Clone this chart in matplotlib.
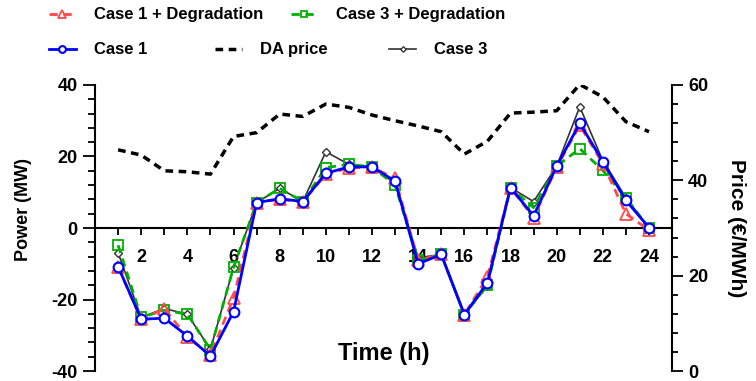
import numpy as np
import matplotlib
matplotlib.use("Agg")
from matplotlib import pyplot as plt
from matplotlib.ticker import MultipleLocator

plt.rcParams['font.family'] = ['Liberation Sans', 'DejaVu Sans']
plt.rcParams['font.weight'] = 'bold'
plt.rcParams['axes.unicode_minus'] = False

hours = np.arange(1, 25)

case1_deg = [-11, -25.5, -22.6, -30.5, -35.5, -19.5, 7.1, 8.0, 7.3, 15.0, 16.8, 17.0,
             13.9, -9.0, -7.4, -24.2, -13.7, 11.3, 2.9, 17.0, 28.7, 18.0, 4.0, -0.6]
case3_deg = [-4.8, -25.0, -23.0, -24.1, -34.0, -11.0, 7.1, 11.1, 7.4, 16.9, 17.8, 17.1,
             12.0, -9.0, -7.4, -24.2, -16.0, 11.3, 5.7, 17.3, 22.2, 16.1, 8.5, 0.0]
case1 = [-10.8, -25.5, -25.2, -30.2, -35.8, -23.4, 7.1, 8.2, 7.4, 15.3, 17.1, 17.1,
         13.1, -10.0, -7.4, -24.2, -15.3, 11.3, 3.4, 17.3, 29.3, 18.6, 7.7, 0.1]
case3 = [-6.9, -25.0, -22.5, -24.1, -33.9, -11.1, 7.1, 11.1, 7.4, 21.3, 17.8, 17.1,
         12.5, -8.3, -7.4, -24.2, -16.2, 11.3, 7.4, 17.3, 33.9, 18.8, 8.5, 0.0]
da_price = [46.4, 45.3, 42.0, 41.8, 41.3, 49.2, 50.0, 53.9, 53.4, 56.0, 55.3, 53.7,
            52.5, 51.4, 50.2, 45.5, 48.2, 54.1, 54.3, 54.6, 60.1, 57.5, 52.3, 50.2]

fig = plt.figure(figsize=(7.56, 3.81), dpi=100)
ax = fig.add_axes([0.1257, 0.026, 0.889 - 0.1257, 0.751])
ax2 = ax.twinx()

l_c3, = ax.plot(hours, case3, color='#333333', lw=1.2, marker='D', ms=4,
                mfc='white', mec='#333333', mew=1, label='Case 3', zorder=3)
l_c3d, = ax.plot(hours, case3_deg, color='#00b000', lw=2, ls=(0, (3, 2)), marker='s', ms=7,
                 mfc='none', mec='#00b000', mew=1.3, label='Case 3 + Degradation', zorder=4)
l_c1d, = ax.plot(hours, case1_deg, color='#ff4a4a', lw=2, ls=(0, (3, 2)), marker='^', ms=9,
                 mfc='none', mec='#ff4a4a', mew=1.3, label='Case 1 + Degradation', zorder=5)
l_c1, = ax.plot(hours, case1, color='#0000ff', lw=2, marker='o', ms=7,
                mfc='white', mec='#0000ff', mew=1.5, label='Case 1', zorder=6)
l_da, = ax2.plot(hours, da_price, color='black', lw=2.5, ls=(0, (2.2, 1.6)), label='DA price')

ax.set_xlim(0, 25)
ax.set_ylim(-40, 40)
ax2.set_ylim(0, 60)

ax.spines['bottom'].set_position(('data', 0))
ax.spines['top'].set_visible(False)
ax.spines['right'].set_visible(False)
ax.spines['left'].set_linewidth(1.5)
ax.spines['bottom'].set_linewidth(1.5)
ax.spines['bottom'].set_bounds(0, 25)
ax2.spines['top'].set_visible(False)
ax2.spines['left'].set_visible(False)
ax2.spines['bottom'].set_visible(False)
ax2.spines['right'].set_linewidth(1.5)
ax2.spines['right'].set_bounds(0, 60)

ax.set_xticks(np.arange(2, 25, 2))
ax.xaxis.set_minor_locator(MultipleLocator(1))
ax.tick_params(axis='x', which='both', direction='out', length=5, width=1.3,
               labelsize=13, pad=10)
ax.set_yticks([-40, -20, 0, 20, 40])
ax.yaxis.set_minor_locator(MultipleLocator(4))
ax.tick_params(axis='y', which='major', direction='out', length=9, width=1.3, labelsize=13)
ax.tick_params(axis='y', which='minor', direction='out', length=5, width=1.3)
ax2.set_yticks([0, 20, 40, 60])
ax2.yaxis.set_minor_locator(MultipleLocator(4))
ax2.tick_params(axis='y', which='major', direction='out', length=8, width=1.3, labelsize=13)
ax2.tick_params(axis='y', which='minor', direction='out', length=4, width=1.3)

for lab in ax.get_xticklabels() + ax.get_yticklabels() + ax2.get_yticklabels():
    lab.set_fontweight('bold')

ax.set_xlabel('Time (h)', fontsize=17, fontweight='bold')
ax.xaxis.set_label_coords(0.5, 0.1)
ax.set_ylabel('Power (MW)', fontsize=13, fontweight='bold')
ax.yaxis.set_label_coords(-0.109, 0.566)
ax2.set_ylabel('Price (€/MWh)', fontsize=15, fontweight='bold', rotation=270, labelpad=27)

# legend: each entry placed on its own
entries = [(l_c1d, 0.056, 0.961), (l_c3d, 0.376, 0.961),
           (l_c1, 0.056, 0.869), (l_da, 0.276, 0.869), (l_c3, 0.506, 0.869)]
for handle, lx, ly in entries:
    fig.legend([handle], [handle.get_label()], loc='center left', bbox_to_anchor=(lx, ly),
               frameon=False, handlelength=1.6, handletextpad=1.1, borderaxespad=0,
               markerscale=0.7, prop={'size': 12, 'weight': 'bold'})

fig.savefig('out.png', dpi=100)
